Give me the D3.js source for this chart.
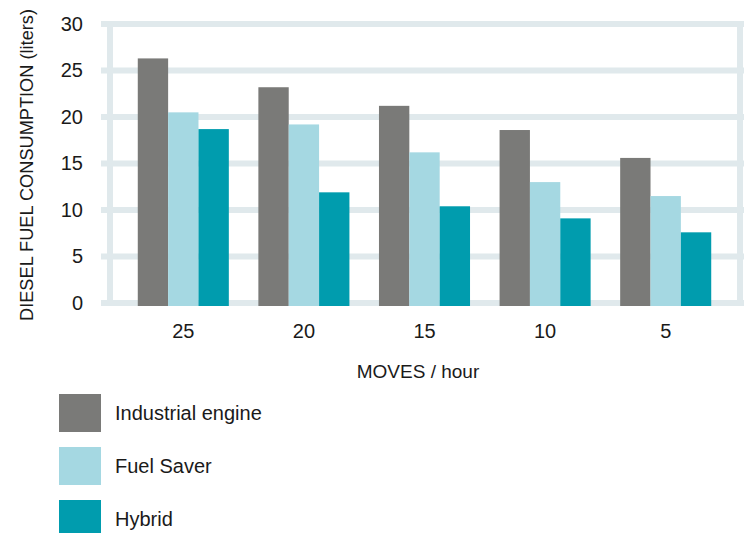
<!DOCTYPE html>
<html>
<head>
<meta charset="utf-8">
<script src="https://cdn.jsdelivr.net/npm/d3@7"></script>
<style>
  body { margin: 0; background: #fff; }
  text { font-family: "Liberation Sans", Arial, sans-serif; fill: #1a1a1a; }
</style>
</head>
<body>
<svg id="chart" width="744" height="533"></svg>
<script>
var categories = ["25", "20", "15", "10", "5"];
var seriesNames = ["Industrial engine", "Fuel Saver", "Hybrid"];
var industrial = [26.3, 23.2, 21.2, 18.6, 15.6];
var fuelSaver = [20.5, 19.2, 16.2, 13.0, 11.5];
var hybrid = [18.7, 11.9, 10.4, 9.1, 7.6];
var yTicks = [0, 5, 10, 15, 20, 25, 30];
var colors = ["#7a7a78", "#a5d8e2", "#009cae"];

var series = [industrial, fuelSaver, hybrid];
var svg = d3.select("#chart");

var frame = { left: 110, right: 740, top: 24, bottom: 303 };

var y = d3.scaleLinear().domain([0, 30]).range([frame.bottom, frame.top]);
var x0 = d3.scaleBand().domain(categories).range([123, 726]).paddingInner(0.245).paddingOuter(0.1225);
var x1 = d3.scaleBand().domain(d3.range(series.length)).range([0, x0.bandwidth()]);

var gridColor = "#e0e9ec";

// horizontal grid lines
svg.append("g")
    .selectAll("line")
    .data(yTicks)
    .join("line")
    .attr("x1", 101)
    .attr("x2", 744)
    .attr("y1", function(d) { return y(d); })
    .attr("y2", function(d) { return y(d); })
    .attr("stroke", gridColor)
    .attr("stroke-width", 6);

// vertical frame lines
svg.append("g")
    .selectAll("line")
    .data([frame.left, frame.right])
    .join("line")
    .attr("x1", function(d) { return d; })
    .attr("x2", function(d) { return d; })
    .attr("y1", frame.top - 3)
    .attr("y2", frame.bottom + 3)
    .attr("stroke", gridColor)
    .attr("stroke-width", 6);

// y tick labels
var yAxis = d3.axisLeft(y).tickValues(yTicks).tickSize(0).tickPadding(0);
svg.append("g")
    .attr("transform", "translate(83,0)")
    .call(yAxis)
    .call(function(g) { g.select(".domain").remove(); })
    .selectAll("text")
    .attr("font-size", 20)
    .attr("font-family", "Liberation Sans, Arial, sans-serif")
    .attr("fill", "#1a1a1a");

// bars
var groups = svg.append("g")
    .selectAll("g")
    .data(categories)
    .join("g")
    .attr("transform", function(d) { return "translate(" + x0(d) + ",0)"; });

groups.selectAll("rect")
    .data(function(d, i) { return series.map(function(s, k) { return { k: k, value: s[i] }; }); })
    .join("rect")
    .attr("x", function(d) { return x1(d.k); })
    .attr("width", x1.bandwidth())
    .attr("y", function(d) { return y(d.value); })
    .attr("height", function(d) { return y(0) - y(d.value) + 3; })
    .attr("fill", function(d) { return colors[d.k]; });

// x tick labels
var xAxis = d3.axisBottom(x0).tickSize(0).tickPadding(0);
svg.append("g")
    .attr("transform", "translate(0,322)")
    .call(xAxis)
    .call(function(g) { g.select(".domain").remove(); })
    .selectAll("text")
    .attr("dy", "0.78em")
    .attr("font-size", 20)
    .attr("font-family", "Liberation Sans, Arial, sans-serif")
    .attr("fill", "#1a1a1a");

// axis titles
svg.append("text")
    .attr("x", 418)
    .attr("y", 378)
    .attr("text-anchor", "middle")
    .attr("font-size", 19)
    .text("MOVES / hour");

svg.append("text")
    .attr("transform", "translate(33,165) rotate(-90)")
    .attr("text-anchor", "middle")
    .attr("font-size", 18.2)
    .text("DIESEL FUEL CONSUMPTION (liters)");

// legend
var legend = svg.append("g")
    .selectAll("g")
    .data(seriesNames)
    .join("g")
    .attr("transform", function(d, i) { return "translate(59," + (394 + i * 53) + ")"; });

legend.append("rect")
    .attr("width", 42)
    .attr("height", 38)
    .attr("fill", function(d, i) { return colors[i]; });

legend.append("text")
    .attr("x", 56)
    .attr("y", 19)
    .attr("dy", "0.36em")
    .attr("font-size", 20)
    .text(function(d) { return d; });
</script>
</body>
</html>
